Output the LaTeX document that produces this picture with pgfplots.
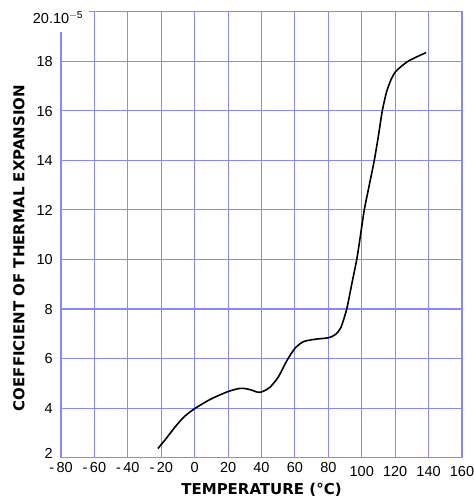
\documentclass[border=0pt]{standalone}
\usepackage{pgfplots}
\pgfplotsset{compat=1.18}
\usepackage{fontspec}
\setmainfont{Liberation Sans}
\newfontfamily\labelfont{DejaVu Sans}
\definecolor{gridblue}{RGB}{135,135,255}

\newcommand{\low}[1]{\raisebox{-4pt}{#1}}

\begin{document}
\begin{tikzpicture}
\begin{axis}[
  name=ax,
  scale only axis,
  width=401pt, height=446pt,
  xmin=-80, xmax=160, ymin=2, ymax=20,
  xtick={-80,-60,-40,-20,0,20,40,60,80,100,120,140,160},
  xticklabels={-\,80,-\,60,-\,40,-\,20,0,20,40,60,80,\low{100},\low{120},\low{140},\low{160}},
  ytick={2,4,6,8,10,12,14,16,18,20},
  yticklabels={\raisebox{4pt}{2},4,6,8,10,12,14,16,18,{}},
  grid=major,
  grid style={gridblue, line width=1.1pt},
  axis line style={gridblue, line width=1.1pt},
  major tick length=0pt,
  tick label style={font=\fontsize{14.5}{16}\selectfont},
  xticklabel style={text height=10.5pt, text depth=3pt, inner sep=0pt, yshift=-4pt},
  yticklabel style={text height=10.5pt, text depth=0pt, inner sep=0pt, xshift=-8pt},
  xlabel={TEMPERATURE (°C)},
  ylabel={COEFFICIENT OF THERMAL EXPANSION},
  label style={font=\labelfont\bfseries\fontsize{15}{17}\selectfont},
  xlabel style={at={(axis description cs:0.5,-0.072)}, anchor=center},
  ylabel style={at={(axis description cs:-0.105,0.47)}, anchor=center},
]
% coefficient of thermal expansion vs temperature
\addplot[black, line width=1.6pt, smooth, tension=0.45] coordinates {
  (-22,2.37) (-17,2.78) (-11.6,3.25) (-6.3,3.65) (0,3.98) (9.5,4.36)
  (20,4.67) (27.5,4.8) (33,4.75) (38,4.64) (41,4.68) (45,4.84)
  (50,5.25) (55.3,5.93) (60,6.41) (65,6.68) (72,6.78) (80,6.84)
  (84.2,6.97) (87.5,7.25) (91,8.0) (94,9.0) (97,10.0) (99.3,11.0)
  (101.5,12.0) (104.5,13.0) (107.5,14.0) (110,15.0) (112.3,16.0)
  (114.8,16.75) (117.5,17.25) (120.5,17.6) (127,17.97) (133,18.18)
  (138.5,18.35)
};
\end{axis}
% top tick label, set over the corner of the frame
\node[fill=white, inner xsep=6pt, inner ysep=8pt,
      font=\fontsize{14.5}{16}\selectfont]
  at ([xshift=-3pt, yshift=-6pt]ax.north west) {20.10$^{\mathrm{-5}}$};
% page margins around the frame
\pgfresetboundingbox
\path ([xshift=-61pt, yshift=-43.3pt]ax.south west)
  rectangle ([xshift=12pt, yshift=11.7pt]ax.north east);
\end{tikzpicture}
\end{document}
